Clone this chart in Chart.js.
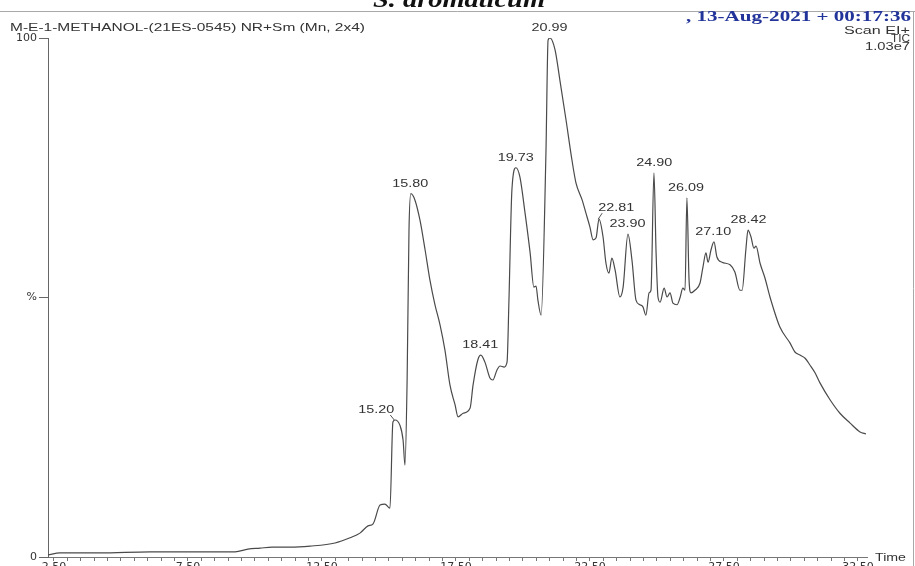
<!DOCTYPE html>
<html>
<head>
<meta charset="utf-8">
<script src="https://cdn.jsdelivr.net/npm/chart.js@4.4.0/dist/chart.umd.min.js"></script>
<style>
  html, body { margin: 0; padding: 0; background: #fff; overflow: hidden; }
  #wrap { width: 915px; height: 566px; position: relative; }
</style>
</head>
<body>
<div id="wrap"><canvas id="tic" width="915" height="566"></canvas></div>
<script>
// retention time (min) and relative abundance (%)
const times = [
  2.28, 2.73, 4.22, 6.09, 7.95, 9.26, 9.74, 10.19, 10.64, 11.31, 12.06, 12.99, 13.55, 13.92, 14.22, 14.41,
  14.67, 14.85, 15.04, 15.15, 15.23, 15.41, 15.53, 15.60, 15.68, 15.75, 15.82, 15.97, 16.16, 16.35, 16.53,
  16.72, 16.91, 17.09, 17.28, 17.47, 17.58, 17.77, 18.03, 18.14, 18.32, 18.43, 18.58, 18.77, 18.88, 19.03,
  19.15, 19.30, 19.41, 19.48, 19.59, 19.74, 19.89, 20.08, 20.27, 20.41, 20.49, 20.56, 20.68, 20.86, 20.94,
  21.01, 21.20, 21.38, 21.61, 21.83, 21.98, 22.21, 22.35, 22.50, 22.62, 22.73, 22.84, 22.99, 23.10, 23.21,
  23.32, 23.44, 23.62, 23.74, 23.92, 24.07, 24.22, 24.37, 24.48, 24.59, 24.71, 24.78, 24.89, 24.97, 25.04,
  25.12, 25.27, 25.38, 25.49, 25.60, 25.75, 25.86, 25.97, 26.05, 26.12, 26.20, 26.27, 26.42, 26.61, 26.72,
  26.83, 26.91, 27.02, 27.13, 27.24, 27.43, 27.73, 27.91, 28.10, 28.18, 28.32, 28.40, 28.51, 28.62, 28.70,
  28.85, 29.03, 29.22, 29.59, 29.97, 30.15, 30.34, 30.53, 30.71, 30.90, 31.09, 31.46, 31.83, 32.21, 32.58, 32.80
];
const intensity = [
  0.4, 0.8, 0.8, 1.0, 1.0, 1.0, 1.5, 1.7, 1.9, 1.9, 2.1, 2.7, 3.7, 4.6, 6.0, 6.4,
  10.0, 10.2, 9.4, 26.0, 26.4, 25.4, 22.5, 17.7, 34.1, 63.0, 70.0, 68.8, 64.9, 59.2, 53.4,
  48.6, 44.7, 39.9, 33.1, 29.3, 27.0, 27.7, 28.7, 33.1, 38.0, 38.9, 37.6, 34.5, 34.1, 36.0,
  36.8, 36.6, 37.6, 49.5, 70.7, 75.0, 73.2, 66.3, 58.6, 52.0, 52.2, 49.5, 46.6, 77.8, 99.6,
  100, 97.7, 91.9, 84.2, 76.5, 72.1, 68.8, 66.3, 63.6, 61.1, 61.5, 65.1, 61.7, 56.6, 54.7,
  57.6, 55.3, 50.1, 52.0, 62.2, 57.2, 49.5, 48.6, 48.2, 46.6, 50.9, 51.4, 74.0, 58.6, 50.1,
  49.1, 51.8, 50.1, 50.9, 48.9, 48.6, 49.9, 51.8, 51.4, 69.2, 53.4, 50.9, 51.4, 52.8, 55.9,
  58.6, 56.8, 59.2, 60.7, 57.8, 56.8, 56.3, 54.9, 51.4, 51.4, 59.2, 63.0, 61.7, 59.5, 59.9,
  56.6, 53.8, 50.1, 44.3, 41.2, 39.5, 38.9, 38.3, 37.0, 35.5, 33.5, 30.3, 27.7, 25.8, 24.1, 23.7
];
const peakTimes = [15.20, 15.80, 18.41, 19.73, 20.99, 22.81, 23.90, 24.90, 26.09, 27.10, 28.42];
const xTickLabels = ['2.50', '7.50', '12.50', '17.50', '22.50', '27.50', '32.50'];
const yTickLabels = { 0: '0', 50: '%', 100: '100' };

const xMin = 2.28, xMax = 32.84;
const ink = '#333';

function fitText(ctx, text, x, y, font, width, align) {
  ctx.save();
  ctx.font = font;
  const w = ctx.measureText(text).width;
  ctx.translate(x, y);
  ctx.scale(width / w, 1);
  ctx.textAlign = align;
  ctx.textBaseline = 'alphabetic';
  ctx.fillText(text, 0, 0);
  ctx.restore();
}

// label placement tweaks (pixels): label centre offset from the peak, plus leader lines
const labelShift = { '15.20': [-18, -6, true], '22.81': [18, -7, true] };

const decorations = {
  id: 'decorations',
  beforeDraw(chart) {
    const ctx = chart.ctx;
    ctx.save();
    ctx.fillStyle = '#fff';
    ctx.fillRect(0, 0, chart.width, chart.height);
    ctx.restore();
  },
  afterDraw(chart) {
    const ctx = chart.ctx;
    ctx.save();
    // frame lines
    ctx.strokeStyle = '#a8a8a8';
    ctx.lineWidth = 1;
    ctx.beginPath();
    ctx.moveTo(0, 11.5); ctx.lineTo(915, 11.5);
    ctx.moveTo(913.5, 11); ctx.lineTo(913.5, 566);
    ctx.stroke();

    // title (clipped by the top edge as in the source)
    ctx.fillStyle = '#111';
    fitText(ctx, 'S. aromaticum', 459, 7, 'italic bold 24px "Liberation Serif"', 172, 'center');

    ctx.fillStyle = '#22349a';
    fitText(ctx, ', 13-Aug-2021 + 00:17:36', 911, 21, 'bold 15px "Liberation Serif"', 225, 'right');

    ctx.fillStyle = ink;
    fitText(ctx, 'M-E-1-METHANOL-(21ES-0545) NR+Sm (Mn, 2x4)', 10, 31, '11px "Liberation Sans"', 355, 'left');
    fitText(ctx, 'Scan EI+', 910, 34, '10px "Liberation Sans"', 66, 'right');
    fitText(ctx, 'TIC', 910, 42, '10px "Liberation Sans"', 19, 'right');
    fitText(ctx, '1.03e7', 910, 50, '10px "Liberation Sans"', 45, 'right');
    fitText(ctx, 'Time', 875, 561, '11px "Liberation Sans"', 31, 'left');

    // peak labels
    const xs = chart.scales.x, ys = chart.scales.y;
    ctx.strokeStyle = '#555';
    peakTimes.forEach(function (t) {
      let best = 0;
      times.forEach(function (v, i) {
        if (Math.abs(v - t) <= 0.09 && intensity[i] > best) best = intensity[i];
      });
      const px = xs.getPixelForValue(t), py = ys.getPixelForValue(best);
      const key = t.toFixed(2);
      const sh = labelShift[key] || [0, -6, false];
      const lx = px + sh[0], ly = py + sh[1];
      fitText(ctx, key, lx, ly - 1, '10px "Liberation Sans"', 36, 'center');
      if (sh[2]) {
        ctx.beginPath();
        ctx.moveTo(lx + (sh[0] < 0 ? 14 : -14), ly + 1);
        ctx.lineTo(px, py);
        ctx.stroke();
      }
    });
    ctx.restore();
  }
};

const minorTicks = [];
for (let v = 2.5; v <= 32.5 + 1e-9; v += 0.5) minorTicks.push({ value: Math.round(v * 100) / 100 });

new Chart(document.getElementById('tic').getContext('2d'), {
  type: 'line',
  data: {
    datasets: [{
      data: times.map(function (t, i) { return { x: t, y: intensity[i] }; }),
      borderColor: '#4a4a4a',
      borderWidth: 1.2,
      pointRadius: 0,
      fill: false,
      cubicInterpolationMode: 'monotone'
    }]
  },
  options: {
    responsive: false,
    animation: false,
    devicePixelRatio: 1,
    layout: { padding: { left: 0, right: 48, top: 38, bottom: 0 } },
    plugins: { legend: { display: false }, tooltip: { enabled: false } },
    scales: {
      x: {
        type: 'linear',
        min: xMin,
        max: xMax,
        afterBuildTicks: function (s) { s.ticks = minorTicks.slice(); },
        afterFit: function (s) { s.height = 9; },
        border: { display: true, color: '#777', width: 1 },
        grid: { drawOnChartArea: false, drawTicks: true, tickLength: 4, color: '#777' },
        ticks: {
          autoSkip: false,
          maxRotation: 0,
          padding: 0,
          color: ink,
          font: { family: 'DejaVu Sans', size: 11 },
          callback: function (v) {
            const lab = v.toFixed(2);
            return xTickLabels.indexOf(lab) >= 0 ? lab : '';
          }
        }
      },
      y: {
        min: 0,
        max: 100,
        afterFit: function (s) { s.width = 48; },
        border: { display: true, color: '#666', width: 1 },
        grid: { drawOnChartArea: false, drawTicks: true, tickLength: 9, color: '#666' },
        ticks: {
          stepSize: 50,
          padding: 2,
          color: ink,
          font: { family: 'DejaVu Sans', size: 11 },
          callback: function (v) { return yTickLabels[v] !== undefined ? yTickLabels[v] : ''; }
        }
      }
    }
  },
  plugins: [decorations]
});
</script>
</body>
</html>
